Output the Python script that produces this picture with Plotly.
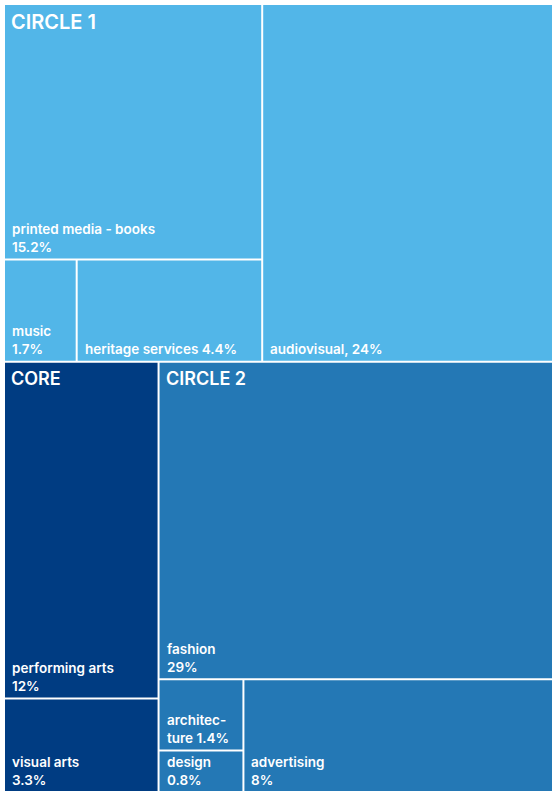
import plotly.graph_objects as go

# ---- data ----
group_names = ["CIRCLE 1", "CORE", "CIRCLE 2"]
sector_labels = ["printed media - books", "music", "heritage services", "audiovisual",
                 "performing arts", "visual arts",
                 "fashion", "architec-<br>ture", "design", "advertising"]
sector_values = [15.2, 1.7, 4.4, 24, 12, 3.3, 29, 1.4, 0.8, 8]
sector_group = [0, 0, 0, 0, 1, 1, 2, 2, 2, 2]
value_sep = ["<br>", "<br>", " ", ", ", "<br>", "<br>", "<br>", " ", "<br>", "<br>"]

# ---- styles ----
group_colors = ["#52B6E8", "#003C82", "#2478B5"]
group_font_size = [20, 18, 18]
FONT = "Inter"
W, H = 552, 791
ML, MT = 5, 5
PW, PH = W - ML, H - MT   # plot area in pixels
GAP = 1.0                 # half-gap between cells (px)

# nested slice layout ("v" = stacked top->bottom, "h" = side by side), leaves are sector indices
tree = ("v", [
    ("h", [("v", [0, ("h", [1, 2])]), 3]),
    ("h", [("v", [4, 5]), ("v", [6, ("h", [("v", [7, 8]), 9])])]),
])
group_nodes = {0: tree[1][0], 1: tree[1][1][1][0], 2: tree[1][1][1][1]}


def node_value(n):
    if isinstance(n, int):
        return sector_values[n]
    return sum(node_value(c) for c in n[1])


rects = {}
node_rects = []


def layout(n, x0, y0, x1, y1):
    node_rects.append((n, (x0, y0, x1, y1)))
    if isinstance(n, int):
        rects[n] = (x0, y0, x1, y1)
        return
    d, kids = n
    tot = node_value(n)
    pos = x0 if d == "h" else y0
    for k in kids:
        frac = node_value(k) / tot
        if d == "h":
            w = (x1 - x0) * frac
            layout(k, pos, y0, pos + w, y1)
            pos += w
        else:
            h = (y1 - y0) * frac
            layout(k, x0, pos, x1, pos + h)
            pos += h


layout(tree, 0, 0, PW, PH)


def inset(x0, y0, x1, y1):
    return (x0 + (GAP if x0 > 0.5 else 0), y0 + (GAP if y0 > 0.5 else 0),
            x1 - (GAP if x1 < PW - 0.5 else 0), y1 - (GAP if y1 < PH - 0.5 else 0))


fig = go.Figure()
shapes = []
annotations = []
for i, r in rects.items():
    x0, y0, x1, y1 = inset(*r)
    g = sector_group[i]
    shapes.append(dict(type="rect", xref="x", yref="y", x0=x0, x1=x1, y0=y0, y1=y1,
                       fillcolor=group_colors[g], line=dict(width=0), layer="below"))
    txt = sector_labels[i] + value_sep[i] + f"{sector_values[i]:g}%"
    annotations.append(dict(x=x0, y=y1, xref="x", yref="y", text=txt, showarrow=False,
                            xanchor="left", yanchor="bottom", align="left",
                            xshift=5, yshift=1.5,
                            font=dict(family=FONT, size=13.5, color="white", weight=600)))

for g, n in group_nodes.items():
    r = inset(*[rr for nn, rr in node_rects if nn is n][0])
    annotations.append(dict(x=r[0], y=r[1], xref="x", yref="y", text=group_names[g],
                            showarrow=False, xanchor="left", yanchor="top", align="left",
                            xshift=4, yshift=-3,
                            font=dict(family=FONT, size=group_font_size[g], color="white", weight=600)))

# invisible trace to establish axes
fig.add_trace(go.Scatter(x=[0, PW], y=[0, PH], mode="markers", marker=dict(opacity=0),
                         hoverinfo="skip", showlegend=False))

fig.update_layout(
    width=W, height=H,
    margin=dict(l=ML, r=0, t=MT, b=0),
    paper_bgcolor="white", plot_bgcolor="white",
    shapes=shapes, annotations=annotations,
    xaxis=dict(range=[0, PW], visible=False, fixedrange=True),
    yaxis=dict(range=[PH, 0], visible=False, fixedrange=True),
    showlegend=False,
)

fig.write_html("out.html")
